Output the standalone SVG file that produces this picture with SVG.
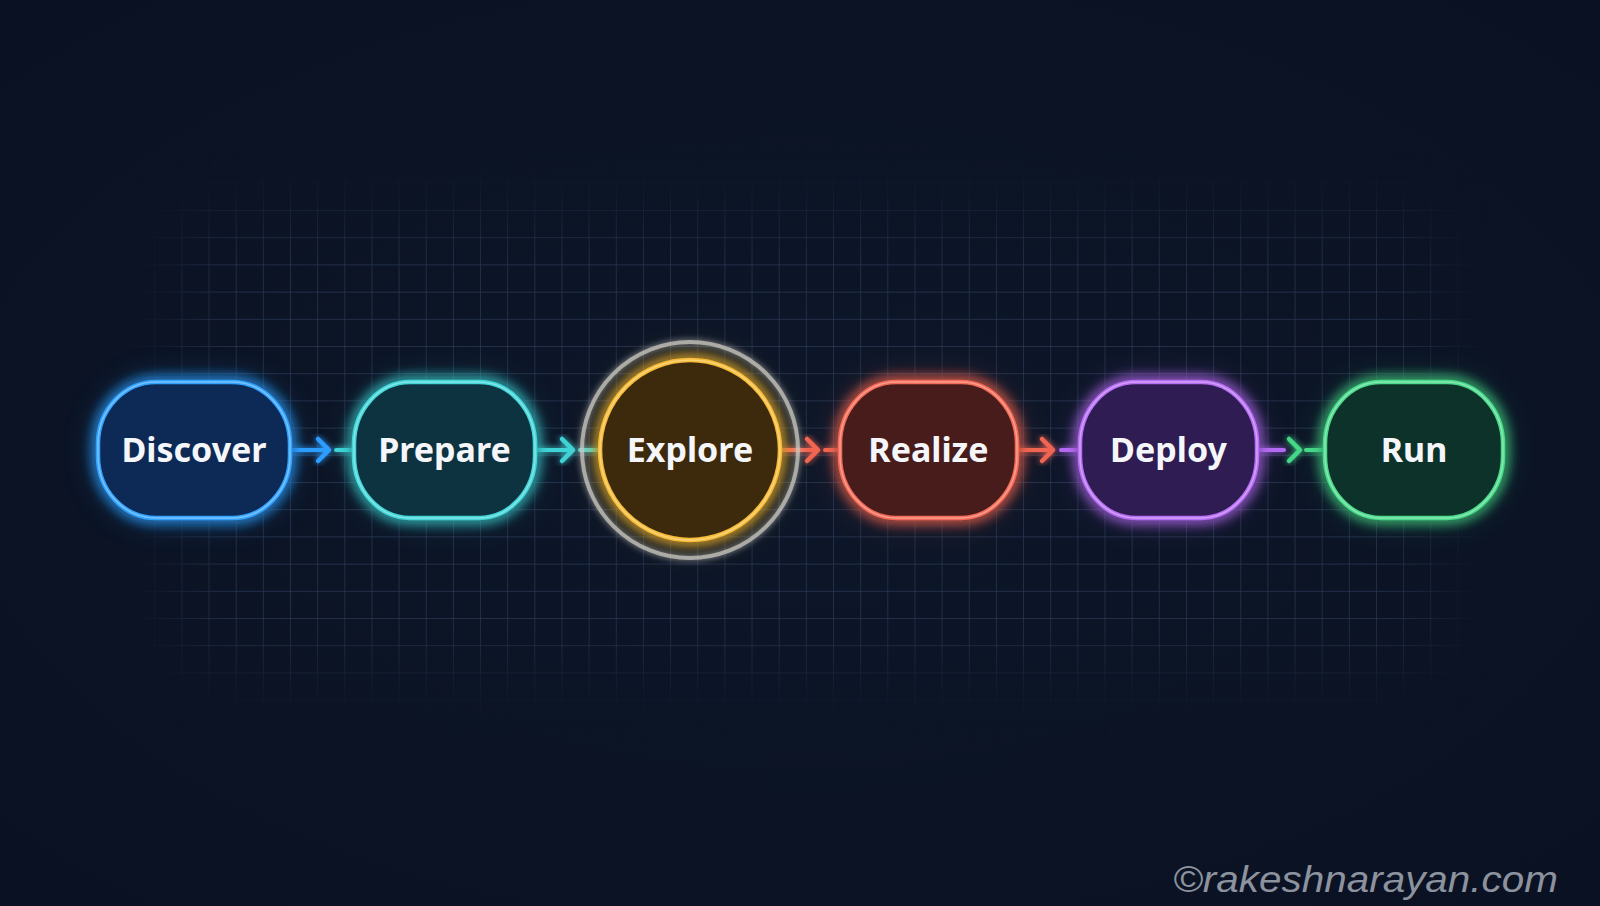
<svg xmlns="http://www.w3.org/2000/svg" width="1600" height="906" viewBox="0 0 1600 906">
<defs>
<style>
.lbl{font-family:"Noto Sans","Liberation Sans",sans-serif;font-weight:700;font-size:34px;fill:#f4f6fa;text-anchor:middle}
.node{stroke-width:4.5}
.core{fill:none;stroke-width:1.5;stroke:#ffffff;stroke-opacity:0.35}
.ln{stroke-width:4;fill:none;stroke-linecap:round}
.chev{stroke-width:4.5;fill:none;stroke-linecap:round;stroke-linejoin:round}
</style>
<radialGradient id="bg" cx="50%" cy="50%" r="70%">
<stop offset="0" stop-color="#0d1729"/>
<stop offset="1" stop-color="#0a1122"/>
</radialGradient>
<filter id="mblur" x="-20%" y="-30%" width="140%" height="160%">
<feGaussianBlur stdDeviation="32"/>
</filter>
<mask id="gm" maskUnits="userSpaceOnUse" x="0" y="0" width="1600" height="906">
<rect x="175" y="215" width="1265" height="455" rx="40" fill="#fff" filter="url(#mblur)"/>
</mask>
<pattern id="grid" x="18.5" y="19.6" width="27.15" height="27.2" patternUnits="userSpaceOnUse">
<path d="M0 0V27.2M0 0H27.15" stroke="#44567a" stroke-width="1.4" stroke-opacity="0.55" fill="none"/>
</pattern>
<filter id="glow" x="-30%" y="-40%" width="160%" height="180%">
<feGaussianBlur in="SourceGraphic" stdDeviation="7" result="b"/>
<feMerge><feMergeNode in="b"/><feMergeNode in="b"/><feMergeNode in="SourceGraphic"/></feMerge>
</filter>
<filter id="soft" x="-20%" y="-20%" width="140%" height="140%">
<feGaussianBlur stdDeviation="3" result="b"/>
<feMerge><feMergeNode in="b"/><feMergeNode in="SourceGraphic"/></feMerge>
</filter>
<filter id="halo" x="-50%" y="-50%" width="200%" height="200%">
<feGaussianBlur stdDeviation="18"/>
</filter>
</defs>
<rect width="1600" height="906" fill="url(#bg)"/>
<rect x="60" y="120" width="1480" height="660" fill="url(#grid)" mask="url(#gm)"/>

<g id="connectors">
<g filter="url(#soft)">
<line class="ln" x1="292" y1="450" x2="326" y2="450" stroke="#2f9dff"/>
<polyline class="chev" points="318,439 329,450 318,461" stroke="#2f9dff"/>
<line class="ln" x1="336" y1="450" x2="354" y2="450" stroke="#3fd3d6"/>

<line class="ln" x1="536" y1="450" x2="570" y2="450" stroke="#3fd3d6"/>
<polyline class="chev" points="562,439 573,450 562,461" stroke="#3fd3d6"/>
<line class="ln" x1="580" y1="450" x2="600" y2="450" stroke="#3fd3d6"/>

<line class="ln" x1="781" y1="450" x2="815" y2="450" stroke="#f26552"/>
<polyline class="chev" points="807,439 818,450 807,461" stroke="#f26552"/>
<line class="ln" x1="825" y1="450" x2="840" y2="450" stroke="#f26552"/>

<line class="ln" x1="1018" y1="450" x2="1050" y2="450" stroke="#f26552"/>
<polyline class="chev" points="1042,439 1053,450 1042,461" stroke="#f26552"/>
<line class="ln" x1="1061" y1="450" x2="1080" y2="450" stroke="#b46af2"/>

<line class="ln" x1="1258" y1="450" x2="1284" y2="450" stroke="#b46af2"/>
<polyline class="chev" points="1289,439 1300,450 1289,461" stroke="#45d887"/>
<line class="ln" x1="1306" y1="450" x2="1325" y2="450" stroke="#45d887"/>
</g>
</g>

<g id="node-discover">
<rect x="98" y="382" width="192" height="136" rx="58" ry="62" fill="#2f9dff" opacity="0.25" filter="url(#halo)"/>
<rect class="node" x="98" y="382" width="192" height="136" rx="58" ry="62" fill="#0c2a57" stroke="#33a2ff" filter="url(#glow)"/>
<rect class="core" x="98" y="382" width="192" height="136" rx="58" ry="62"/>
<text class="lbl" x="194" y="462">Discover</text>
</g>

<g id="node-prepare">
<rect x="354" y="382" width="181" height="136" rx="56" ry="62" fill="#3fd3d6" opacity="0.2" filter="url(#halo)"/>
<rect class="node" x="354" y="382" width="181" height="136" rx="56" ry="62" fill="#0d3340" stroke="#42d6d8" filter="url(#glow)"/>
<rect class="core" x="354" y="382" width="181" height="136" rx="56" ry="62"/>
<text class="lbl" x="444.5" y="462">Prepare</text>
</g>

<g id="node-explore">
<circle cx="690" cy="450" r="108" fill="none" stroke="#c8c8c4" stroke-opacity="0.75" stroke-width="4" filter="url(#soft)"/>
<circle cx="690" cy="450" r="90" fill="#f5b731" opacity="0.25" filter="url(#halo)"/>
<circle class="node" cx="690" cy="450" r="90" fill="#3d2c10" stroke="#f7bb35" filter="url(#glow)"/>
<circle class="core" cx="690" cy="450" r="90"/>
<text class="lbl" x="690" y="462">Explore</text>
</g>

<g id="node-realize">
<rect x="840" y="382" width="177" height="136" rx="56" ry="62" fill="#f26552" opacity="0.25" filter="url(#halo)"/>
<rect class="node" x="840" y="382" width="177" height="136" rx="56" ry="62" fill="#4a1f1e" stroke="#f46a57" filter="url(#glow)"/>
<rect class="core" x="840" y="382" width="177" height="136" rx="56" ry="62"/>
<text class="lbl" x="928.5" y="462">Realize</text>
</g>

<g id="node-deploy">
<rect x="1080" y="382" width="177" height="136" rx="56" ry="62" fill="#b46af2" opacity="0.25" filter="url(#halo)"/>
<rect class="node" x="1080" y="382" width="177" height="136" rx="56" ry="62" fill="#2d1b52" stroke="#b76ef4" filter="url(#glow)"/>
<rect class="core" x="1080" y="382" width="177" height="136" rx="56" ry="62"/>
<text class="lbl" x="1168.5" y="462">Deploy</text>
</g>

<g id="node-run">
<rect x="1325" y="382" width="178" height="136" rx="56" ry="62" fill="#45d887" opacity="0.2" filter="url(#halo)"/>
<rect class="node" x="1325" y="382" width="178" height="136" rx="56" ry="62" fill="#10332a" stroke="#48da8a" filter="url(#glow)"/>
<rect class="core" x="1325" y="382" width="178" height="136" rx="56" ry="62"/>
<text class="lbl" x="1414" y="462">Run</text>
</g>

<text x="1173" y="892" font-family="Liberation Sans, Arial, sans-serif" font-style="italic" font-size="36" fill="#8c929e" textLength="385" lengthAdjust="spacingAndGlyphs">©rakeshnarayan.com</text>
</svg>
